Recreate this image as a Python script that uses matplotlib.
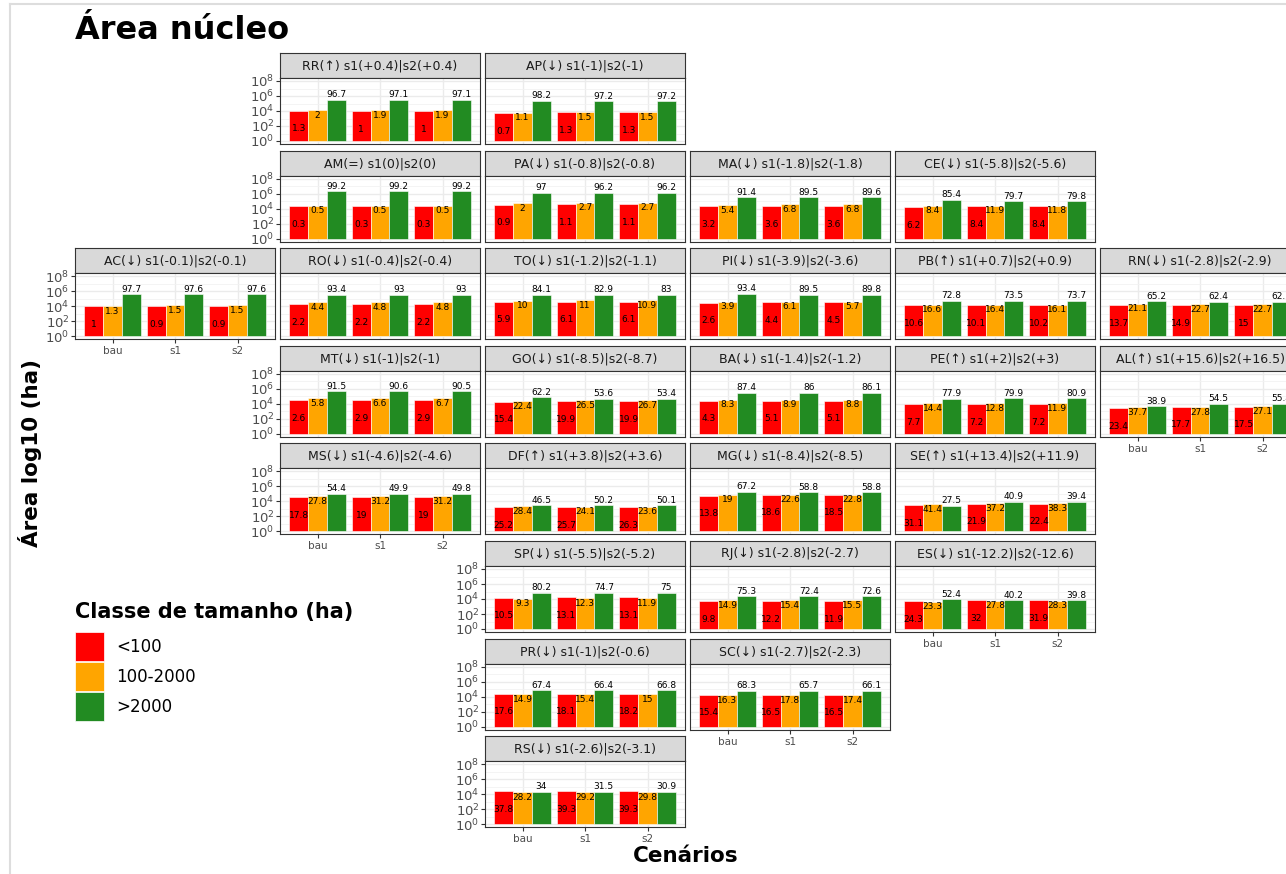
import matplotlib
matplotlib.use('Agg')
import matplotlib.pyplot as plt
import numpy as np
from matplotlib.patches import Rectangle
from matplotlib.lines import Line2D
from matplotlib.ticker import FixedLocator, FixedFormatter, NullFormatter

plt.rcParams['font.family'] = ['DejaVu Sans']
plt.rcParams['mathtext.fontset'] = 'dejavusans'

scenarios = ['bau', 's1', 's2']
classes = ['<100', '100-2000', '>2000']
class_colors = ['#FF0000', '#FFA500', '#228B22']

state_codes = ['RR', 'AP', 'AM', 'PA', 'MA', 'CE', 'AC', 'RO', 'TO', 'PI', 'PB', 'RN',
               'MT', 'GO', 'BA', 'PE', 'AL', 'MS', 'DF', 'MG', 'SE', 'SP', 'RJ', 'ES',
               'PR', 'SC', 'RS']
strip_titles = [
    'RR(↑) s1(+0.4)|s2(+0.4)', 'AP(↓) s1(-1)|s2(-1)', 'AM(=) s1(0)|s2(0)',
    'PA(↓) s1(-0.8)|s2(-0.8)', 'MA(↓) s1(-1.8)|s2(-1.8)', 'CE(↓) s1(-5.8)|s2(-5.6)',
    'AC(↓) s1(-0.1)|s2(-0.1)', 'RO(↓) s1(-0.4)|s2(-0.4)', 'TO(↓) s1(-1.2)|s2(-1.1)',
    'PI(↓) s1(-3.9)|s2(-3.6)', 'PB(↑) s1(+0.7)|s2(+0.9)', 'RN(↓) s1(-2.8)|s2(-2.9)',
    'MT(↓) s1(-1)|s2(-1)', 'GO(↓) s1(-8.5)|s2(-8.7)', 'BA(↓) s1(-1.4)|s2(-1.2)',
    'PE(↑) s1(+2)|s2(+3)', 'AL(↑) s1(+15.6)|s2(+16.5)', 'MS(↓) s1(-4.6)|s2(-4.6)',
    'DF(↑) s1(+3.8)|s2(+3.6)', 'MG(↓) s1(-8.4)|s2(-8.5)', 'SE(↑) s1(+13.4)|s2(+11.9)',
    'SP(↓) s1(-5.5)|s2(-5.2)', 'RJ(↓) s1(-2.8)|s2(-2.7)', 'ES(↓) s1(-12.2)|s2(-12.6)',
    'PR(↓) s1(-1)|s2(-0.6)', 'SC(↓) s1(-2.7)|s2(-2.3)', 'RS(↓) s1(-2.6)|s2(-3.1)',
]
grid_row = [0, 0, 1, 1, 1, 1, 2, 2, 2, 2, 2, 2, 3, 3, 3, 3, 3, 4, 4, 4, 4, 5, 5, 5, 6, 6, 7]
grid_col = [1, 2, 1, 2, 3, 4, 0, 1, 2, 3, 4, 5, 1, 2, 3, 4, 5, 1, 2, 3, 4, 2, 3, 4, 2, 3, 2]

# percentuais (rótulos) por classe: bau, s1, s2
pct_small = [
    [1.3, 1, 1], [0.7, 1.3, 1.3], [0.3, 0.3, 0.3], [0.9, 1.1, 1.1], [3.2, 3.6, 3.6],
    [6.2, 8.4, 8.4], [1, 0.9, 0.9], [2.2, 2.2, 2.2], [5.9, 6.1, 6.1], [2.6, 4.4, 4.5],
    [10.6, 10.1, 10.2], [13.7, 14.9, 15], [2.6, 2.9, 2.9], [15.4, 19.9, 19.9],
    [4.3, 5.1, 5.1], [7.7, 7.2, 7.2], [23.4, 17.7, 17.5], [17.8, 19, 19],
    [25.2, 25.7, 26.3], [13.8, 18.6, 18.5], [31.1, 21.9, 22.4], [10.5, 13.1, 13.1],
    [9.8, 12.2, 11.9], [24.3, 32, 31.9], [17.6, 18.1, 18.2], [15.4, 16.5, 16.5],
    [37.8, 39.3, 39.3],
]
pct_medium = [
    [2, 1.9, 1.9], [1.1, 1.5, 1.5], [0.5, 0.5, 0.5], [2, 2.7, 2.7], [5.4, 6.8, 6.8],
    [8.4, 11.9, 11.8], [1.3, 1.5, 1.5], [4.4, 4.8, 4.8], [10, 11, 10.9], [3.9, 6.1, 5.7],
    [16.6, 16.4, 16.1], [21.1, 22.7, 22.7], [5.8, 6.6, 6.7], [22.4, 26.5, 26.7],
    [8.3, 8.9, 8.8], [14.4, 12.8, 11.9], [37.7, 27.8, 27.1], [27.8, 31.2, 31.2],
    [28.4, 24.1, 23.6], [19, 22.6, 22.8], [41.4, 37.2, 38.3], [9.3, 12.3, 11.9],
    [14.9, 15.4, 15.5], [23.3, 27.8, 28.3], [14.9, 15.4, 15], [16.3, 17.8, 17.4],
    [28.2, 29.2, 29.8],
]
pct_large = [
    [96.7, 97.1, 97.1], [98.2, 97.2, 97.2], [99.2, 99.2, 99.2], [97, 96.2, 96.2],
    [91.4, 89.5, 89.6], [85.4, 79.7, 79.8], [97.7, 97.6, 97.6], [93.4, 93, 93],
    [84.1, 82.9, 83], [93.4, 89.5, 89.8], [72.8, 73.5, 73.7], [65.2, 62.4, 62.3],
    [91.5, 90.6, 90.5], [62.2, 53.6, 53.4], [87.4, 86, 86.1], [77.9, 79.9, 80.9],
    [38.9, 54.5, 55.4], [54.4, 49.9, 49.8], [46.5, 50.2, 50.1], [67.2, 58.8, 58.8],
    [27.5, 40.9, 39.4], [80.2, 74.7, 75], [75.3, 72.4, 72.6], [52.4, 40.2, 39.8],
    [67.4, 66.4, 66.8], [68.3, 65.7, 66.1], [34, 31.5, 30.9],
]

log_area_small = [
    [4.05, 3.95, 3.95], [3.7, 3.85, 3.85], [4.3, 4.3, 4.3], [4.5, 4.55, 4.55],
    [4.3, 4.35, 4.35], [4.2, 4.3, 4.3], [4.0, 4.0, 4.0], [4.25, 4.25, 4.25],
    [4.6, 4.6, 4.6], [4.45, 4.5, 4.5], [4.1, 4.1, 4.1], [4.1, 4.1, 4.1],
    [4.5, 4.5, 4.5], [4.3, 4.35, 4.35], [4.4, 4.4, 4.4], [3.95, 3.95, 3.95],
    [3.4, 3.6, 3.6], [4.55, 4.55, 4.55], [3.25, 3.25, 3.25], [4.75, 4.9, 4.9],
    [3.5, 3.7, 3.7], [4.2, 4.25, 4.25], [3.7, 3.7, 3.7], [3.7, 3.85, 3.85],
    [4.4, 4.4, 4.4], [4.25, 4.25, 4.25], [4.4, 4.4, 4.4],
]
log_area_medium = [
    [4.1, 4.1, 4.1], [3.8, 3.85, 3.85], [4.4, 4.4, 4.4], [4.75, 4.8, 4.8],
    [4.5, 4.6, 4.6], [4.4, 4.4, 4.4], [4.0, 4.1, 4.1], [4.5, 4.5, 4.5],
    [4.75, 4.8, 4.8], [4.6, 4.6, 4.6], [4.2, 4.2, 4.2], [4.35, 4.3, 4.3],
    [4.75, 4.8, 4.8], [4.4, 4.45, 4.45], [4.55, 4.55, 4.55], [4.05, 4.05, 4.05],
    [3.6, 3.6, 3.7], [4.75, 4.75, 4.75], [3.4, 3.3, 3.3], [4.9, 4.9, 4.9],
    [3.6, 3.8, 3.8], [4.05, 4.15, 4.15], [3.85, 3.85, 3.85], [3.65, 3.8, 3.8],
    [4.3, 4.3, 4.3], [4.25, 4.25, 4.25], [4.3, 4.3, 4.3],
]
log_area_large = [
    [5.5, 5.5, 5.5], [5.4, 5.3, 5.3], [6.3, 6.3, 6.3], [6.1, 6.1, 6.1],
    [5.5, 5.5, 5.5], [5.15, 5.0, 5.0], [5.6, 5.6, 5.6], [5.55, 5.55, 5.55],
    [5.55, 5.55, 5.55], [5.65, 5.55, 5.55], [4.75, 4.75, 4.75], [4.65, 4.6, 4.6],
    [5.7, 5.7, 5.7], [4.85, 4.7, 4.7], [5.5, 5.5, 5.5], [4.7, 4.75, 4.75],
    [3.65, 4.0, 4.0], [5.0, 5.0, 5.0], [3.5, 3.5, 3.5], [5.3, 5.2, 5.2],
    [3.45, 3.95, 3.95], [4.85, 4.8, 4.8], [4.4, 4.4, 4.4], [3.95, 3.85, 3.85],
    [4.85, 4.85, 4.85], [4.75, 4.75, 4.75], [4.35, 4.35, 4.35],
]

y_tick_values = [1, 1e2, 1e4, 1e6, 1e8]
y_tick_labels = [r'$10^{0}$', r'$10^{2}$', r'$10^{4}$', r'$10^{6}$', r'$10^{8}$']

W, H = 1286, 874
fig = plt.figure(figsize=(W / 100, H / 100), dpi=100)


def box(x, y, w, h):
    return [x / W, 1 - (y + h) / H, w / W, h / H]


# paineis que levam eixo x / eixo y
x_axis_states = ['AC', 'MS', 'RS', 'SC', 'ES', 'AL']
y_axis_states = ['RR', 'AM', 'AC', 'MT', 'MS', 'SP', 'PR', 'RS']
label_offsets = [-13, -3.8, 3.6]  # pontos, por classe

for i, code in enumerate(state_codes):
    left = 75 + 205 * grid_col[i]
    top = 53 + 97.6 * grid_row[i]

    sax = fig.add_axes(box(left, top, 200, 25))
    sax.set_facecolor('#D9D9D9')
    sax.set_xticks([])
    sax.set_yticks([])
    for sp in sax.spines.values():
        sp.set_color('#333333')
        sp.set_linewidth(0.8)
    sax.text(0.5, 0.48, strip_titles[i], ha='center', va='center',
             fontsize=9, color='#1A1A1A', transform=sax.transAxes)

    ax = fig.add_axes(box(left, top + 25, 200, 66))
    ax.set_yscale('log')
    ax.set_ylim(10 ** -0.4, 10 ** 8.4)
    ax.set_xlim(0.4, 3.6)
    ax.yaxis.set_major_locator(FixedLocator(y_tick_values))
    ax.yaxis.set_minor_locator(FixedLocator([10, 1e3, 1e5, 1e7]))
    ax.yaxis.set_minor_formatter(NullFormatter())
    ax.set_xticks([1, 2, 3])
    ax.grid(which='major', color='#EBEBEB', lw=1.0, zorder=0)
    ax.grid(which='minor', axis='y', color='#F2F2F2', lw=0.6, zorder=0)
    ax.set_axisbelow(True)
    for sp in ax.spines.values():
        sp.set_color('#333333')
        sp.set_linewidth(0.8)
        sp.set_zorder(5)

    x = np.arange(1, 4)
    series = [(pct_small[i], log_area_small[i]),
              (pct_medium[i], log_area_medium[i]),
              (pct_large[i], log_area_large[i])]
    for k, (pcts, logs) in enumerate(series):
        heights = 10 ** np.array(logs)
        xs = x + (k - 1) * 0.3
        ax.bar(xs, heights - 1, bottom=1, width=0.3, color=class_colors[k],
               edgecolor='white', linewidth=0.4, zorder=2)
        for xx, hh, p in zip(xs, heights, pcts):
            ax.annotate(f'{p:g}', (xx, hh), xytext=(0, label_offsets[k]),
                        textcoords='offset points', ha='center', va='center',
                        fontsize=6.5, color='black', zorder=4)

    ax.tick_params(which='minor', length=0)
    if code in y_axis_states:
        ax.yaxis.set_major_formatter(FixedFormatter(y_tick_labels))
        ax.tick_params(axis='y', which='major', length=3, width=0.8, color='#333333',
                       labelsize=9.5, labelcolor='#4D4D4D', pad=1)
    else:
        ax.tick_params(axis='y', which='major', length=0, labelleft=False)
    if code in x_axis_states:
        ax.set_xticklabels(scenarios)
        ax.tick_params(axis='x', length=3, width=0.8, color='#333333',
                       labelsize=7.5, labelcolor='#4D4D4D', pad=2)
    else:
        ax.tick_params(axis='x', length=0, labelbottom=False)

fig.text(75 / W, 1 - 39 / H, 'Área núcleo', fontsize=23, fontweight='bold',
         ha='left', va='baseline')
fig.text(30 / W, 1 - 453 / H, 'Área log10 (ha)', fontsize=15.5, fontweight='bold',
         rotation=90, ha='center', va='center')
fig.text(686 / W, 1 - 856 / H, 'Cenários', fontsize=15.5, fontweight='bold',
         ha='center', va='center')

# legenda
fig.text(75 / W, 1 - 612 / H, 'Classe de tamanho (ha)', fontsize=15, fontweight='bold',
         ha='left', va='center')
for k, lab in enumerate(classes):
    y0 = 632 + 30 * k
    fig.add_artist(Rectangle((75 / W, 1 - (y0 + 29) / H), 29 / W, 29 / H,
                             transform=fig.transFigure, facecolor=class_colors[k],
                             edgecolor='white', linewidth=0.5))
    fig.text(116 / W, 1 - (y0 + 15) / H, lab, fontsize=12, ha='left', va='center')

# moldura
fig.add_artist(Line2D([10 / W, 1], [1 - 4 / H, 1 - 4 / H], color='#DDDDDD', lw=1.5,
                      transform=fig.transFigure))
fig.add_artist(Line2D([10 / W, 10 / W], [0, 1 - 4 / H], color='#DDDDDD', lw=1.5,
                      transform=fig.transFigure))

fig.savefig('out.png', dpi=100)
